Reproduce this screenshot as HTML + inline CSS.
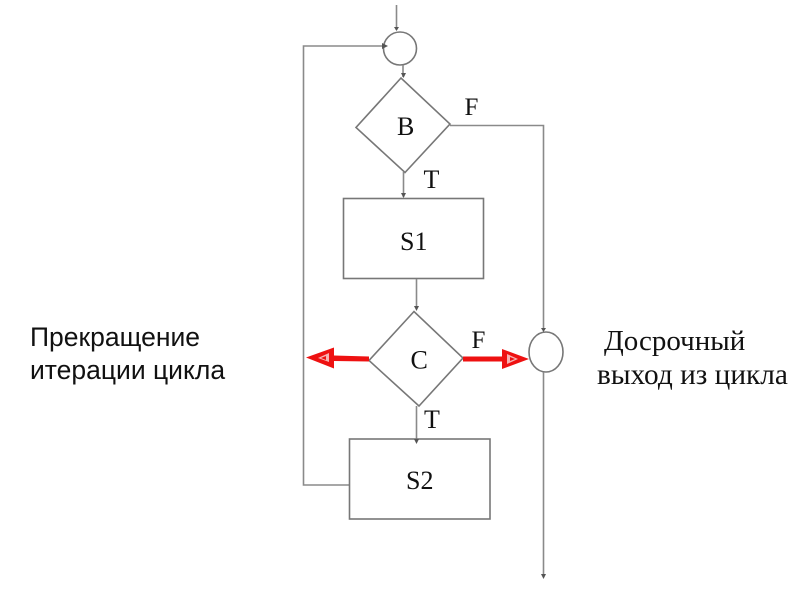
<!DOCTYPE html>
<html>
<head>
<meta charset="utf-8">
<style>
html,body{margin:0;padding:0;background:#fff;}
svg{display:block;filter:blur(0.35px);}
</style>
</head>
<body>
<svg width="800" height="600" viewBox="0 0 800 600" xmlns="http://www.w3.org/2000/svg">
<rect width="800" height="600" fill="#fff"/>
<g fill="none" stroke="#8a8a8a" stroke-width="1.6">
<!-- top -->
<path d="M396.500 5V30"/>
<ellipse cx="400" cy="48.500" rx="16.500" ry="16.500" stroke="#777"/>
<path d="M403 65V77"/>
<!-- loop line -->
<path d="M384 46H303.500V485H350"/>
<!-- B -->
<path d="M401 78L356 127.500L405 172.500L450 124Z" stroke="#777"/>
<path d="M450 125.500H543.500V330"/>
<path d="M403.500 172V197"/>
<!-- S1 -->
<rect x="343.500" y="198.500" width="140" height="80" stroke="#777"/>
<path d="M416.500 279V309"/>
<!-- C -->
<path d="M414 311.500L369 360.500L419 406L463 358Z" stroke="#777"/>
<path d="M416.500 406V441"/>
<!-- S2 -->
<rect x="349.500" y="439" width="140.500" height="80" stroke="#777"/>
<!-- right circle -->
<ellipse cx="546" cy="352" rx="17" ry="20" stroke="#777"/>
<path d="M543.500 372V574"/>
</g>
<!-- small arrowheads -->
<g fill="#555">
<path d="M394 27H399L396.500 31Z"/>
<path d="M382 43L388 46L382 49Z"/>
<path d="M401 73H406L403.500 78Z"/>
<path d="M401 193H406L403.500 198Z"/>
<path d="M414 306H419L416.500 311Z"/>
<path d="M414 439H419L416.500 444Z"/>
<path d="M541 328H546L543.500 332Z"/>
<path d="M541 574H546L543.500 579Z"/>
</g>
<!-- red arrows -->
<g fill="#ee1111" stroke="none">
<path d="M334 355.500L369 356.500V361.500L334 361V368.500L306 357.500L334 347.500Z"/>
<path d="M463 356.500H502V349L529 359L502 369V361.500H463Z"/>
</g>
<g fill="#f6b0b0">
<path d="M329 353L318 358L329 362Z"/>
<path d="M507 354L518 359L507 364Z"/>
</g>
<g fill="#ee1111">
<path d="M326 356L321 358L326 360Z"/>
<path d="M510 357L515 359L510 361Z"/>
</g>
<!-- serif labels -->
<g font-family="'Liberation Serif','Noto Serif CJK SC',serif" fill="#111">
<text x="397" y="135" font-size="26">B</text>
<text x="464.500" y="115" font-size="25">F</text>
<text x="423.500" y="188" font-size="26">T</text>
<text x="400" y="250" font-size="26">S1</text>
<text x="410.500" y="368.500" font-size="26">C</text>
<text x="471.500" y="348" font-size="25">F</text>
<text x="424" y="428" font-size="26">T</text>
<text x="406" y="489" font-size="26">S2</text>
<text x="604" y="350" font-size="29">Досрочный</text>
<text x="597" y="384" font-size="29.300">выход из цикла</text>
</g>
<g font-family="'Liberation Sans','Noto Sans CJK JP',sans-serif" fill="#111" font-size="26.500">
<text x="30" y="346">Прекращение</text>
<text x="30" y="379">итерации цикла</text>
</g>
</svg>
</body>
</html>
